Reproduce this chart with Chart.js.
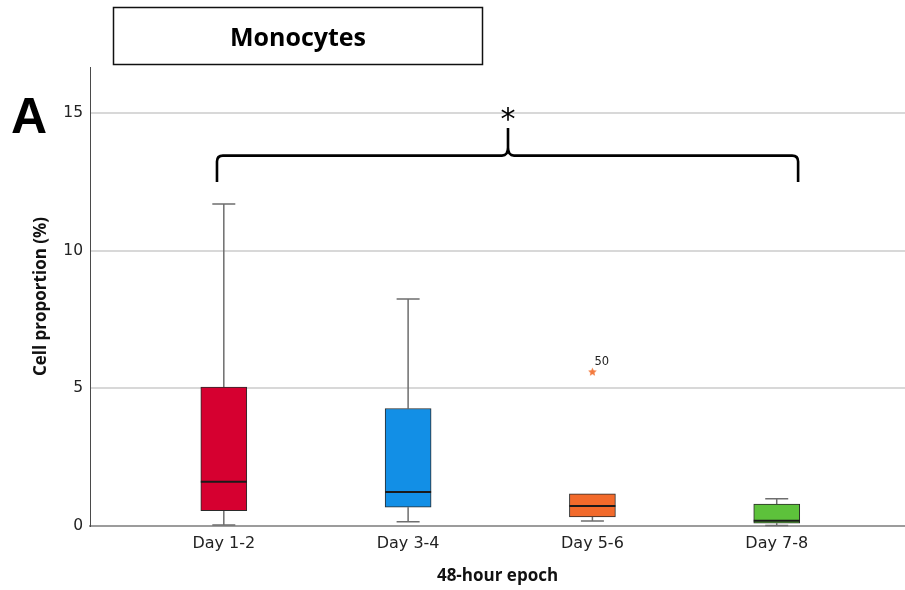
<!DOCTYPE html>
<html>
<head>
<meta charset="utf-8">
<script src="https://cdn.jsdelivr.net/npm/chart.js@4.4.1/dist/chart.umd.min.js"></script>
<style>
  html, body { margin: 0; padding: 0; background: #fff; }
  #wrap { width: 905px; height: 590px; }
</style>
</head>
<body>
<div id="wrap"><canvas id="boxChart" width="905" height="590"></canvas></div>
<script>
// Box plot values (cell proportion, %)
const EPOCHS = ['Day 1-2', 'Day 3-4', 'Day 5-6', 'Day 7-8'];
const WHISKER_LOW = [0.04, 0.15, 0.18, 0.02];
const Q1 = [0.56, 0.68, 0.33, 0.10];
const MEDIAN = [1.61, 1.24, 0.73, 0.19];
const Q3 = [5.05, 4.27, 1.17, 0.80];
const WHISKER_HIGH = [11.70, 8.25, 1.17, 0.99];

// extreme value (case 50, in Day 5-6)
const OUTLIER_EPOCH = [3];
const OUTLIER_VALUE = [5.61];
const OUTLIER_CASE = ['50'];

const Y_TICKS = [0, 5, 10, 15];
const BOX_COLORS = ['#d60030', '#128fe6', '#f26a2b', '#5dc23b'];

const TEXT = '#222';
const WHISKER = '#6e6e6e';

// small filled star used for the extreme value marker
function starImage(size, color) {
    const c = document.createElement('canvas');
    c.width = c.height = size;
    const g = c.getContext('2d');
    const r = size / 2, ri = r * 0.45;
    g.beginPath();
    for (let k = 0; k < 10; k++) {
        const rad = k % 2 === 0 ? r : ri;
        const a = -Math.PI / 2 + k * Math.PI / 5;
        g.lineTo(r + rad * Math.cos(a), r + 0.5 + rad * Math.sin(a));
    }
    g.closePath();
    g.fillStyle = color;
    g.fill();
    return c;
}

// whiskers behind the boxes, medians + annotations on top
const boxExtras = {
    id: 'boxExtras',
    beforeDatasetsDraw(chart) {
        const { ctx, scales: { x, y } } = chart;
        const bars = chart.getDatasetMeta(0).data;
        ctx.save();
        ctx.strokeStyle = WHISKER;
        ctx.lineWidth = 1.5;
        EPOCHS.forEach((_, i) => {
            const cx = x.getPixelForValue(i + 1);
            const half = bars[i].width / 4;
            [[Q3[i], WHISKER_HIGH[i]], [Q1[i], WHISKER_LOW[i]]].forEach(([from, to]) => {
                if (from === to) return;
                const py = y.getPixelForValue(to);
                ctx.beginPath();
                ctx.moveTo(cx, y.getPixelForValue(from));
                ctx.lineTo(cx, py);
                ctx.moveTo(cx - half, py);
                ctx.lineTo(cx + half, py);
                ctx.stroke();
            });
        });
        ctx.restore();
    },
    afterDatasetsDraw(chart) {
        const { ctx, scales: { x, y } } = chart;
        const bars = chart.getDatasetMeta(0).data;
        ctx.save();
        // medians
        ctx.strokeStyle = '#1a1a1a';
        ctx.lineWidth = 2;
        EPOCHS.forEach((_, i) => {
            const py = y.getPixelForValue(MEDIAN[i]);
            const b = bars[i];
            ctx.beginPath();
            ctx.moveTo(b.x - b.width / 2, py);
            ctx.lineTo(b.x + b.width / 2, py);
            ctx.stroke();
        });
        // case id next to the extreme value
        ctx.fillStyle = TEXT;
        ctx.font = '11.5px "DejaVu Sans"';
        ctx.textAlign = 'left';
        ctx.textBaseline = 'alphabetic';
        OUTLIER_EPOCH.forEach((e, k) => {
            ctx.fillText(OUTLIER_CASE[k], x.getPixelForValue(e) + 2, y.getPixelForValue(OUTLIER_VALUE[k]) - 7);
        });

        // significance brace from Day 1-2 to Day 7-8
        const xl = x.getPixelForValue(0.963), xr = x.getPixelForValue(4.116), xm = x.getPixelForValue(2.542);
        const yb = y.getPixelForValue(12.5), yh = y.getPixelForValue(13.46), yp = y.getPixelForValue(14.46);
        const r = 6;
        ctx.strokeStyle = '#000';
        ctx.lineWidth = 2.6;
        ctx.lineJoin = 'round';
        ctx.beginPath();
        ctx.moveTo(xl, yb);
        ctx.lineTo(xl, yh + r);
        ctx.quadraticCurveTo(xl, yh, xl + r, yh);
        ctx.lineTo(xm - 6, yh);
        ctx.quadraticCurveTo(xm, yh, xm, yh - 8);
        ctx.lineTo(xm, yp);
        ctx.moveTo(xm, yh - 8);
        ctx.quadraticCurveTo(xm, yh, xm + 6, yh);
        ctx.lineTo(xr - r, yh);
        ctx.quadraticCurveTo(xr, yh, xr, yh + r);
        ctx.lineTo(xr, yb);
        ctx.stroke();

        ctx.fillStyle = '#000';
        ctx.font = '30px "DejaVu Sans"';
        ctx.textAlign = 'center';
        const m = ctx.measureText('*');
        const sy = y.getPixelForValue(14.96);
        ctx.fillText('*', xm, sy + (m.actualBoundingBoxAscent - m.actualBoundingBoxDescent) / 2);
        ctx.restore();
    },
    afterDraw(chart) {
        const { ctx } = chart;
        ctx.save();
        // title box
        ctx.strokeStyle = '#111';
        ctx.lineWidth = 1.5;
        ctx.strokeRect(113.5, 7.5, 369, 57);
        ctx.fillStyle = '#000';
        ctx.textAlign = 'center';
        ctx.textBaseline = 'alphabetic';
        ctx.font = 'bold 25px "Open Sans"';
        ctx.fillText('Monocytes', 298, 46);
        // panel letter
        ctx.textAlign = 'left';
        ctx.font = 'bold 50px "Liberation Sans"';
        ctx.fillText('A', 11, 133);
        ctx.restore();
    }
};

new Chart(document.getElementById('boxChart'), {
    type: 'bar',
    data: {
        datasets: [
            {
                type: 'bar',
                label: 'IQR',
                data: EPOCHS.map((_, i) => ({ x: i + 1, y: [Q1[i], Q3[i]] })),
                backgroundColor: BOX_COLORS,
                borderColor: '#2b2b2b',
                borderWidth: 1,
                borderSkipped: false,
                barThickness: 46
            },
            {
                type: 'scatter',
                label: 'Extreme',
                data: OUTLIER_EPOCH.map((e, k) => ({ x: e, y: OUTLIER_VALUE[k] })),
                pointStyle: starImage(9, '#f37a3e')
            }
        ]
    },
    options: {
        responsive: false,
        animation: false,
        devicePixelRatio: 1,
        layout: { autoPadding: false, padding: { top: 67, left: 0, right: 0, bottom: 0 } },
        plugins: { legend: { display: false }, tooltip: { enabled: false } },
        scales: {
            x: {
                type: 'linear',
                min: 0.274,
                max: 4.696,
                offset: false,
                afterBuildTicks: s => { s.ticks = EPOCHS.map((_, i) => ({ value: i + 1 })); },
                afterFit: s => { s.height = 64; },
                grid: { display: false, drawTicks: false, offset: false },
                border: { color: '#9c9c9c', width: 2 },
                ticks: {
                    autoSkip: false, maxRotation: 0, padding: 8, color: TEXT,
                    font: { family: 'DejaVu Sans', size: 16 },
                    callback: v => EPOCHS[v - 1] ?? ''
                },
                title: {
                    display: true, text: '48-hour epoch', color: '#111',
                    font: { family: 'Open Sans', size: 17, weight: 'bold' },
                    padding: { top: 0, bottom: 4 }
                }
            },
            y: {
                min: 0,
                max: 16.68,
                afterBuildTicks: s => { s.ticks = Y_TICKS.map(v => ({ value: v })); },
                afterFit: s => { s.width = 90; },
                grid: { color: '#d8d8d8', lineWidth: 2, drawTicks: false },
                border: { color: '#4a4a4a', width: 1 },
                ticks: { padding: 7, color: TEXT, font: { family: 'DejaVu Sans', size: 15.5 } },
                title: {
                    display: true, text: 'Cell proportion (%)', color: '#111',
                    font: { family: 'Open Sans', size: 17, weight: 'bold' },
                    padding: { top: 31, bottom: 0 }
                }
            }
        }
    },
    plugins: [boxExtras]
});
</script>
</body>
</html>
